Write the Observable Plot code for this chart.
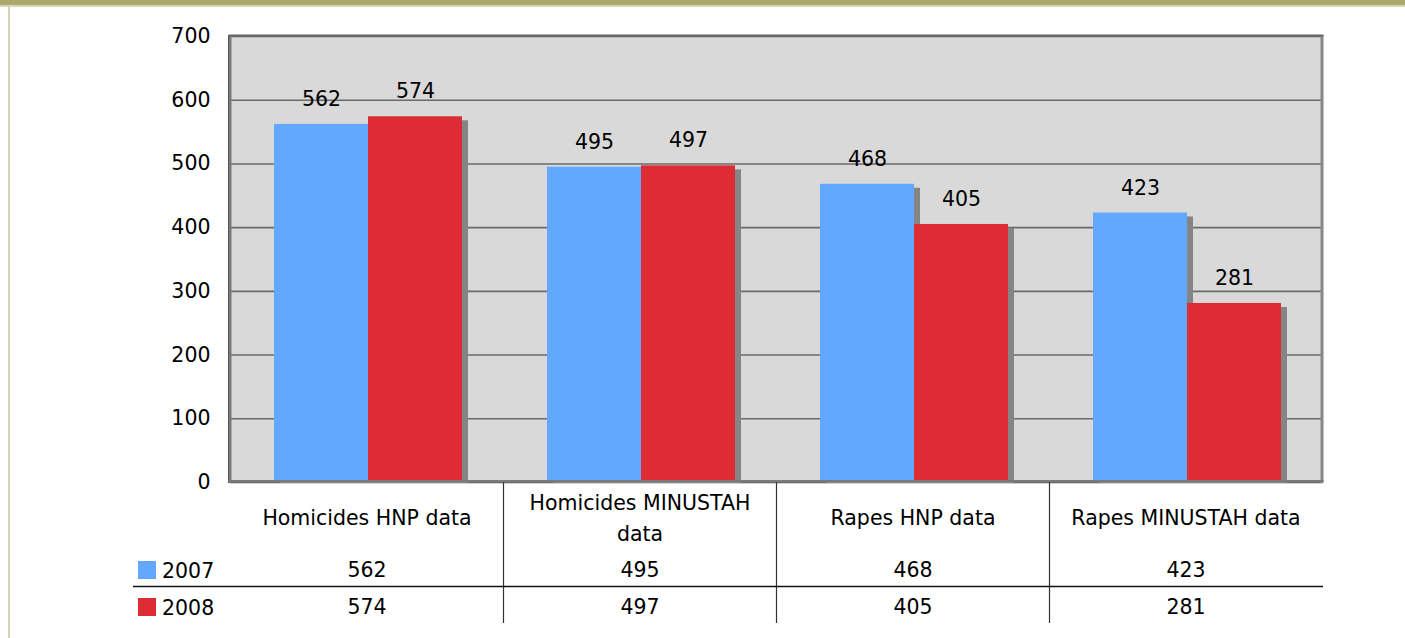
<!DOCTYPE html>
<html><head><meta charset="utf-8">
<script src="https://cdn.jsdelivr.net/npm/d3@7"></script>
<script src="https://cdn.jsdelivr.net/npm/@observablehq/plot@0.6"></script>
<style>
html,body{margin:0;padding:0;background:#fff;overflow:hidden;}
#wrap{position:relative;width:1405px;height:638px;font-family:"DejaVu Sans",Verdana,sans-serif;}
#band{position:absolute;left:0;top:0;width:1405px;height:5px;background:#aba96b;border-bottom:2px solid #d9d7b4;z-index:2}
#lborder{position:absolute;left:8px;top:7px;width:2px;height:631px;background:#d5d3b0;z-index:2}
#chart{position:absolute;left:0;top:0}
</style></head><body>
<div id="wrap"><div id="band"></div><div id="lborder"></div><div id="chart"></div></div>
<script>
const categories = ["Homicides HNP data", "Homicides MINUSTAH data", "Rapes HNP data", "Rapes MINUSTAH data"];
const years = ["2007", "2008"];
const values2007 = [562, 495, 468, 423];
const values2008 = [574, 497, 405, 281];
const yTicks = [0, 100, 200, 300, 400, 500, 600, 700];
const colors = ["#62a8ff", "#dd2c33"];

const data = [];
categories.forEach((c, i) => {
  data.push({category: c, year: years[0], value: values2007[i]});
  data.push({category: c, year: years[1], value: values2008[i]});
});
const rows = categories.map((c, i) => ({category: c, v2007: values2007[i], v2008: values2008[i]}));

const W = 1405, H = 638, ML = 229, MR = 83, MT = 36, MB = 156;
const FS = 20.5;

const chart = Plot.plot({
  width: W, height: H,
  marginLeft: ML, marginRight: MR, marginTop: MT, marginBottom: MB,
  style: {fontFamily: "DejaVu Sans, Verdana, sans-serif", fontSize: FS + "px", color: "#000", background: "transparent"},
  fx: {domain: categories, paddingInner: 0, paddingOuter: 0, axis: null, label: null},
  x: {domain: years, paddingInner: 0, paddingOuter: 0.4435, align: 0.52, axis: null, label: null},
  y: {domain: [0, 700], ticks: yTicks, tickSize: 0, tickPadding: 20, label: null},
  color: {domain: years, range: colors},
  marks: [
    Plot.frame({fill: "#d9d9d9", stroke: "#d9d9d9", strokeWidth: 1.5}),
    Plot.ruleY(yTicks, {stroke: "#6a6a6a", strokeWidth: 1.6}),
    Plot.barY(data, {fx: "category", x: "year", y: "value", fill: "#858585", dx: 6, dy: 4, insetBottom: 3}),
    Plot.barY(data, {fx: "category", x: "year", y: "value", fill: "year"}),
    Plot.text(data, {fx: "category", x: "year", y: "value", text: d => String(d.value), dy: -25, fontSize: FS, fill: "#000"}),
    Plot.text(categories, {fx: d => d, text: d => d, frameAnchor: "bottom", lineAnchor: "middle", dy: 33, lineWidth: 11.5, lineHeight: 1.5, fontSize: FS, fill: "#000"}),
    Plot.text(rows, {fx: "category", text: d => String(d.v2007), frameAnchor: "bottom", lineAnchor: "middle", dy: 88, fontSize: FS, fill: "#000"}),
    Plot.text(rows, {fx: "category", text: d => String(d.v2008), frameAnchor: "bottom", lineAnchor: "middle", dy: 125, fontSize: FS, fill: "#000"})
  ]
});

document.getElementById("chart").appendChild(chart);

// frame decorations and data-table rules
(function () {
  const svg = d3.select(chart);
  const ys = chart.scale("y"), fxs = chart.scale("fx"), cs = chart.scale("color");
  const pLeft = fxs.apply(categories[0]);
  const pRight = fxs.apply(categories[categories.length - 1]) + fxs.bandwidth;
  const pTop = ys.apply(700), pBottom = ys.apply(0);
  const g = svg.append("g");
  g.append("rect").attr("x", pLeft - 1.5).attr("y", pTop - 1).attr("width", 3).attr("height", pBottom - pTop + 2).attr("fill", "#7a7a7a");
  g.append("line").attr("x1", pLeft - 1.5).attr("x2", pLeft - 1.5).attr("y1", pTop - 1).attr("y2", pBottom + 1).attr("stroke", "#555").attr("stroke-width", 1);
  g.append("rect").attr("x", pRight - 1.5).attr("y", pTop - 1).attr("width", 3).attr("height", pBottom - pTop + 2).attr("fill", "#888");
  g.append("line").attr("x1", pLeft - 1.5).attr("x2", pRight + 1.5).attr("y1", pTop - 0.5).attr("y2", pTop - 0.5).attr("stroke", "#666").attr("stroke-width", 2);
  g.append("line").attr("x1", pLeft - 1.5).attr("x2", pRight + 1.5).attr("y1", pBottom - 1).attr("y2", pBottom - 1).attr("stroke", "#7a7a7a").attr("stroke-width", 2);
  categories.slice(1).forEach(c => {
    const x = Math.round(fxs.apply(c)) + 0.5;
    g.append("line").attr("x1", x).attr("x2", x).attr("y1", pBottom).attr("y2", pBottom + 141).attr("stroke", "#333").attr("stroke-width", 1.2);
  });
  g.append("line").attr("x1", 133).attr("x2", pRight + 1).attr("y1", pBottom + 104.5).attr("y2", pBottom + 104.5).attr("stroke", "#111").attr("stroke-width", 1.3);
  const rowY = [89, 126];
  years.forEach((yr, i) => {
    g.append("rect").attr("x", 138).attr("y", pBottom + rowY[i] - 10).attr("width", 18).attr("height", 18).attr("fill", cs.apply(yr));
    g.append("text").attr("x", 162).attr("y", pBottom + rowY[i]).attr("dy", "0.36em").attr("text-anchor", "start")
      .attr("fill", "#000").attr("font-size", FS).text(yr);
  });
})();
</script>
</body></html>
